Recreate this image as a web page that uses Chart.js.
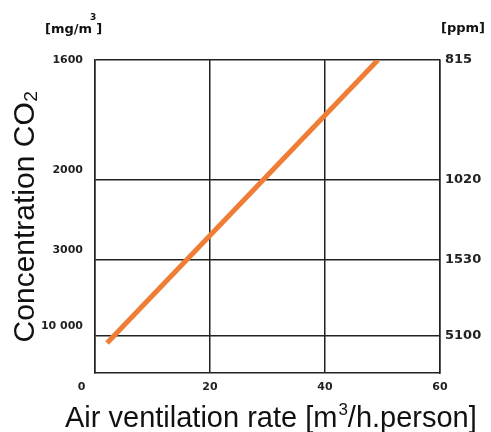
<!DOCTYPE html>
<html>
<head>
<meta charset="utf-8">
<script src="https://cdn.jsdelivr.net/npm/chart.js@4/dist/chart.umd.min.js"></script>
<style>
html,body{margin:0;padding:0;background:#fff;}
#wrap{width:491px;height:432px;}
</style>
</head>
<body>
<div id="wrap"><canvas id="c" width="491" height="432"></canvas></div>
<script>
// Data
const rateValues = [2.1, 49.2];           // air ventilation rate [m3/h.person]
const linePositions = [30, 313];          // position on the (reciprocal) concentration scale
const xTickValues = [0, 20, 40, 60];
const yTickPositions = [37, 113, 193, 313];
const leftTickLabels = ['10 000', '3000', '2000', '1600'];   // mg/m3
const rightTickLabels = ['5100', '1530', '1020', '815'];     // ppm
const xTitleParts = ['Air ventilation rate [m', '3', '/h.person]'];

const FONT = "'Liberation Sans', Arial, 'DejaVu Sans', sans-serif";
const TFONT = "'DejaVu Sans', 'Liberation Sans', sans-serif";
const tickFont = {family: TFONT, size: 11, weight: 'bold'};

const textPlugin = {
  id: 'texts',
  afterDraw(chart) {
    const ctx = chart.ctx;
    ctx.save();
    ctx.fillStyle = '#111';
    ctx.textBaseline = 'alphabetic';
    ctx.textAlign = 'left';
    // unit labels
    ctx.font = "bold 13px " + TFONT;
    let x = 45, y = 33;
    ctx.fillText('[mg/m', x, y);
    x += ctx.measureText('[mg/m').width;
    ctx.font = "bold 9px " + TFONT;
    ctx.fillText('3', x - 2, y - 13);
    x += ctx.measureText('3').width - 2;
    ctx.font = "bold 13px " + TFONT;
    ctx.fillText(']', x, y);
    ctx.fillText('[ppm]', 441, 32);
    // x axis title
    const big = "29px " + FONT, small = "17px " + FONT;
    x = 65; y = 427;
    ctx.font = big;
    ctx.fillText(xTitleParts[0], x, y);
    x += ctx.measureText(xTitleParts[0]).width + 1;
    ctx.font = small;
    ctx.fillText(xTitleParts[1], x, y - 12);
    x += ctx.measureText(xTitleParts[1]).width;
    ctx.font = big;
    ctx.fillText(xTitleParts[2], x, y);
    ctx.restore();
  }
};

new Chart(document.getElementById('c'), {
  type: 'scatter',
  data: {
    datasets: [{
      data: rateValues.map((v, i) => ({x: v, y: linePositions[i]})),
      showLine: true,
      borderColor: '#f07d35',
      borderWidth: 5,
      pointRadius: 0,
      fill: false
    }]
  },
  options: {
    responsive: false,
    animation: false,
    layout: {padding: {top: 60, right: 0, left: 0, bottom: 0}},
    plugins: {legend: {display: false}, tooltip: {enabled: false}},
    scales: {
      x: {
        type: 'linear', min: 0, max: 60,
        afterBuildTicks: s => { s.ticks = xTickValues.map(v => ({value: v})); },
        afterFit: s => { s.height = 59; },
        grid: {color: '#222', lineWidth: 1.5, drawTicks: false},
        border: {color: '#222', width: 1.5},
        ticks: {
          font: tickFont, color: '#222', padding: 8, maxRotation: 0,
          callback: v => v === 0 ? '0' + '       ' : String(v)
        },
        title: {display: false}
      },
      y: {
        type: 'linear', position: 'left', min: 0, max: 313,
        afterBuildTicks: s => { s.ticks = yTickPositions.map(v => ({value: v})); },
        afterFit: s => { s.width = 95; },
        grid: {color: '#222', lineWidth: 1.5, drawTicks: false},
        border: {color: '#222', width: 1.5},
        ticks: {
          font: Object.assign({}, tickFont, {lineHeight: 1.8}), color: '#222', padding: 12,
          callback: (v) => {
            const i = yTickPositions.indexOf(v);
            const lab = leftTickLabels[i];
            return i === yTickPositions.length - 1 ? lab : [lab, ''];
          }
        },
        title: {
          display: true,
          text: 'Concentration CO₂',
          font: {family: FONT, size: 30},
          color: '#111',
          padding: {top: 8, bottom: 0}
        }
      },
      y2: {
        type: 'linear', position: 'right', min: 0, max: 313,
        afterBuildTicks: s => { s.ticks = yTickPositions.map(v => ({value: v})); },
        afterFit: s => { s.width = 51; },
        grid: {display: false, drawTicks: false},
        border: {color: '#222', width: 1.5},
        ticks: {
          font: {family: TFONT, size: 13, weight: 'bold'}, color: '#222', padding: 5,
          callback: (v) => rightTickLabels[yTickPositions.indexOf(v)]
        }
      }
    }
  },
  plugins: [textPlugin]
});
</script>
</body>
</html>
